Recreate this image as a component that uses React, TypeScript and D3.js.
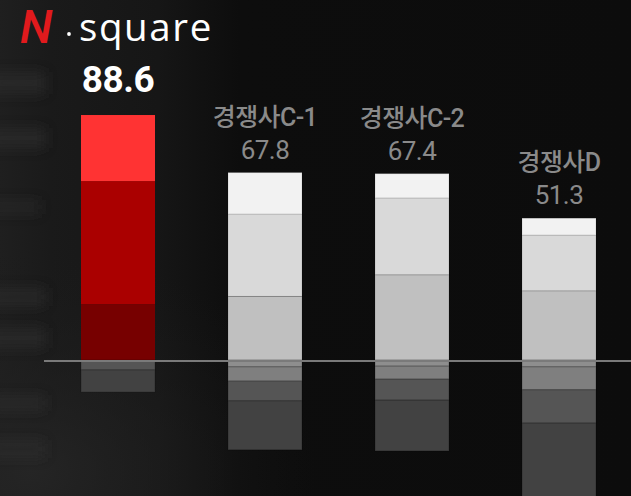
import React, { useEffect } from "react";
import * as d3 from "d3";

// ---- data ----
const categories = ["N.square", "경쟁사C-1", "경쟁사C-2", "경쟁사D"];
const totals = [88.6, 67.8, 67.4, 51.3];
const totalLabels = ["88.6", "67.8", "67.4", "51.3"];
// upper stacked segments (bottom -> top)
const upperSeg1 = [20.2, 23.0, 30.8, 25.0];
const upperSeg2 = [44.5, 29.8, 27.8, 20.2];
const upperSeg3 = [23.9, 15.0, 8.8, 6.1];
// lower stacked segments (from baseline downward)
const lowerSeg1 = [0, 2.5, 2.2, 2.5];
const lowerSeg2 = [0, 5.1, 4.7, 8.3];
const lowerSeg3 = [3.6, 7.2, 7.6, 12.0];
const lowerSeg4 = [8.0, 17.7, 18.4, 28.0];

const upperKeys = ["u1", "u2", "u3"];
const lowerKeys = ["l1", "l2", "l3", "l4"];
const highlightUpper = ["#770000", "#aa0000", "#ff3333"];
const greyUpper = ["#c0c0c0", "#d9d9d9", "#f2f2f2"];
const lowerColors = ["#8e8e8e", "#7f7f7f", "#555555", "#424242"];

const W = 631;
const H = 496;

export default function App() {
  useEffect(() => {
    document.body.style.margin = "0";
    document.body.style.background = "#0c0c0c";
  }, []);

  const rows = categories.map((c, i) => ({
    cat: c,
    u1: upperSeg1[i],
    u2: upperSeg2[i],
    u3: upperSeg3[i],
    l1: lowerSeg1[i],
    l2: lowerSeg2[i],
    l3: lowerSeg3[i],
    l4: lowerSeg4[i],
  }));

  const x = d3
    .scaleBand<string>()
    .domain(categories)
    .range([81, 596])
    .paddingInner(0.4966)
    .paddingOuter(0);

  const y = d3.scaleLinear().domain([-50, 100]).range([498.25, 83.5]);

  const upperStack = d3.stack<any>().keys(upperKeys)(rows);
  const lowerStack = d3.stack<any>().keys(lowerKeys)(rows);

  const bw = x.bandwidth();
  const fontLatin = "Roboto, 'Noto Sans CJK KR', sans-serif";

  return (
    <svg
      width={W}
      height={H}
      style={{ position: "absolute", left: 0, top: 0, display: "block" }}
    >
      <defs>
        <linearGradient id="bgL" x1="0" x2="1" y1="0" y2="0">
          <stop offset="0" stopColor="#1f1f1f" />
          <stop offset="0.08" stopColor="#1a1a1a" />
          <stop offset="0.25" stopColor="#161616" />
          <stop offset="0.38" stopColor="#0d0d0d" />
          <stop offset="1" stopColor="#0c0c0c" />
        </linearGradient>
        <radialGradient id="bgBL" cx="0.05" cy="0.95" r="0.45">
          <stop offset="0" stopColor="#262626" stopOpacity="0.9" />
          <stop offset="1" stopColor="#1a1a1a" stopOpacity="0" />
        </radialGradient>
        <filter id="blur" x="-50%" y="-50%" width="200%" height="200%">
          <feGaussianBlur stdDeviation="6" />
        </filter>
      </defs>

      {/* background */}
      <rect width={W} height={H} fill="#0c0c0c" />
      <rect width={W} height={H} fill="url(#bgL)" />
      <rect width={W} height={H} fill="url(#bgBL)" />
      <g filter="url(#blur)" fill="#2c2c2c" opacity={0.75}>
        <rect x={-10} y={72} width={55} height={22} />
        <rect x={-10} y={128} width={55} height={20} />
        <rect x={-10} y={200} width={50} height={14} opacity={0.6} />
        <rect x={-10} y={288} width={55} height={18} />
        <rect x={-10} y={328} width={55} height={20} />
        <rect x={-10} y={395} width={55} height={16} opacity={0.7} />
        <rect x={-10} y={440} width={55} height={18} opacity={0.7} />
      </g>

      {/* logo */}
      <g>
        <text
          x={20}
          y={43}
          fill="#e11a1d"
          fontFamily={fontLatin}
          fontWeight={500}
          fontStyle="italic"
          fontSize={47}
        >
          N
        </text>
        <circle cx={69} cy={34} r={1.9} fill="#ffffff" />
        <text
          x={79}
          y={41}
          fill="#ffffff"
          fontFamily="'Open Sans', 'Noto Sans', sans-serif"
          fontWeight={400}
          fontSize={38.5}
          letterSpacing={1.6}
        >
          square
        </text>
      </g>

      {/* upper bars */}
      {upperStack.map((layer, li) => (
        <g key={"u" + li}>
          {layer.map((d, i) => (
            <rect
              key={i}
              x={x(categories[i])}
              y={y(d[1])}
              width={bw}
              height={y(d[0]) - y(d[1])}
              fill={i === 0 ? highlightUpper[li] : greyUpper[li]}
              stroke={i === 0 ? "none" : "rgba(0,0,0,0.12)"}
              strokeWidth={1}
            />
          ))}
        </g>
      ))}

      {/* lower bars */}
      {lowerStack.map((layer, li) => (
        <g key={"l" + li}>
          {layer.map((d, i) =>
            d[1] - d[0] > 0 ? (
              <rect
                key={i}
                x={x(categories[i])}
                y={y(-d[0])}
                width={bw}
                height={y(-d[1]) - y(-d[0])}
                fill={lowerColors[li]}
                stroke="rgba(0,0,0,0.22)"
                strokeWidth={1}
              />
            ) : null
          )}
        </g>
      ))}

      {/* baseline */}
      <line
        x1={44}
        x2={W}
        y1={y(0) + 1}
        y2={y(0) + 1}
        stroke="#7a7a7a"
        strokeWidth={2}
      />

      {/* labels */}
      {categories.map((c, i) => {
        const cx = (x(c) as number) + bw / 2;
        const top = y(totals[i]);
        if (i === 0) {
          return (
            <text
              key={c}
              x={cx}
              y={top - 23}
              textAnchor="middle"
              fill="#ffffff"
              fontFamily={fontLatin}
              fontWeight={700}
              fontSize={37}
              letterSpacing={-0.5}
            >
              {totalLabels[i]}
            </text>
          );
        }
        return (
          <g key={c}>
            <text
              x={cx}
              y={top - 47}
              textAnchor="middle"
              fill="#8a8a8a"
              fontFamily={fontLatin}
              fontWeight={500}
              fontSize={25}
              letterSpacing={-0.6}
            >
              {c}
            </text>
            <text
              x={cx}
              y={top - 14}
              textAnchor="middle"
              fill="#8a8a8a"
              fontFamily={fontLatin}
              fontWeight={400}
              fontSize={26}
              letterSpacing={-0.5}
            >
              {totalLabels[i]}
            </text>
          </g>
        );
      })}
    </svg>
  );
}
